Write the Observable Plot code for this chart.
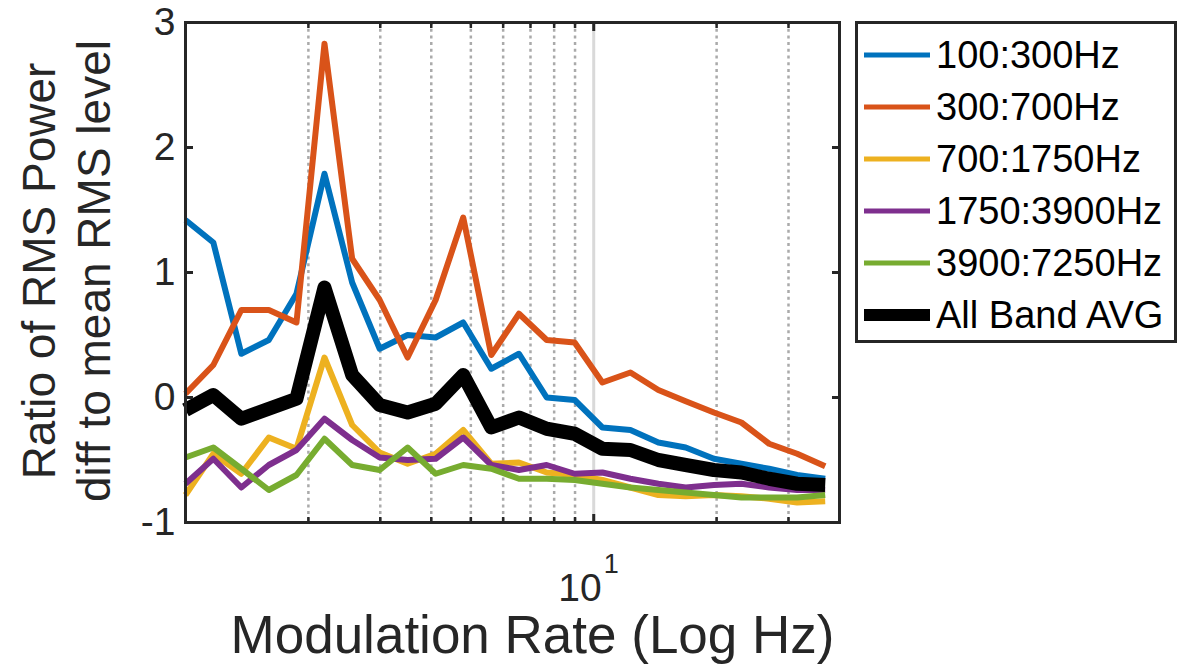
<!DOCTYPE html>
<html>
<head>
<meta charset="utf-8">
<script src="https://cdn.jsdelivr.net/npm/d3@7"></script>
<script src="https://cdn.jsdelivr.net/npm/@observablehq/plot@0.6"></script>
<style>
  html, body { margin: 0; padding: 0; background: #fff; }
  #wrap { position: relative; width: 1180px; height: 665px; font-family: "Liberation Sans", Arial, sans-serif; }
  #legend { position: absolute; left: 855px; top: 21px; width: 322px; height: 322px; border: 3px solid #262626; box-sizing: border-box; background: #fff; }
  .row { position: absolute; left: 6px; height: 40px; display: flex; align-items: center; }
  .sw { width: 66px; margin-right: 6px; }
  .lab { font-size: 38px; color: #000; white-space: nowrap; }
  #ylab { position: absolute; left: 67px; top: 271px; transform: translate(-50%, -50%) rotate(-90deg);
          font-size: 46px; line-height: 55px; color: #262626; text-align: center; white-space: pre; }
</style>
</head>
<body>
<div id="wrap"></div>
<script>
// Modulation rate (Hz), log-spaced samples
const modRate = [1.00, 1.17, 1.37, 1.60, 1.87, 2.19, 2.56, 2.99, 3.50, 4.10, 4.79, 5.61,
                 6.56, 7.67, 8.98, 10.5, 12.3, 14.4, 16.8, 19.7, 23.0, 26.9, 31.5, 36.9];

const band100_300   = [1.42, 1.24, 0.35, 0.46, 0.83, 1.79, 0.92, 0.39, 0.50, 0.48, 0.60, 0.23,
                       0.35, 0.00, -0.02, -0.24, -0.26, -0.36, -0.40, -0.49, -0.53, -0.57, -0.62, -0.65];
const band300_700   = [0.03, 0.26, 0.70, 0.70, 0.60, 2.83, 1.11, 0.78, 0.32, 0.78, 1.44, 0.34,
                       0.67, 0.46, 0.44, 0.12, 0.20, 0.06, -0.03, -0.12, -0.20, -0.37, -0.45, -0.55];
const band700_1750  = [-0.78, -0.45, -0.61, -0.32, -0.41, 0.32, -0.22, -0.44, -0.53, -0.45, -0.26, -0.53,
                       -0.52, -0.60, -0.62, -0.66, -0.72, -0.78, -0.79, -0.78, -0.79, -0.81, -0.84, -0.83];
const band1750_3900 = [-0.69, -0.49, -0.72, -0.54, -0.42, -0.17, -0.34, -0.48, -0.50, -0.49, -0.32, -0.54,
                       -0.58, -0.54, -0.61, -0.60, -0.65, -0.69, -0.72, -0.70, -0.69, -0.72, -0.74, -0.74];
const band3900_7250 = [-0.48, -0.40, -0.57, -0.74, -0.62, -0.33, -0.54, -0.58, -0.40, -0.61, -0.54, -0.57,
                       -0.65, -0.65, -0.66, -0.69, -0.72, -0.74, -0.76, -0.78, -0.80, -0.80, -0.80, -0.78];
const allBandAvg    = [-0.10, 0.02, -0.17, -0.09, -0.01, 0.88, 0.18, -0.06, -0.12, -0.05, 0.18, -0.24,
                       -0.16, -0.25, -0.29, -0.41, -0.42, -0.50, -0.54, -0.58, -0.60, -0.65, -0.69, -0.70];

const seriesNames = ["100:300Hz", "300:700Hz", "700:1750Hz", "1750:3900Hz", "3900:7250Hz", "All Band AVG"];
const seriesValues = [band100_300, band300_700, band700_1750, band1750_3900, band3900_7250, allBandAvg];
const seriesColors = ["#0072BD", "#D95319", "#EDB120", "#7E2F8E", "#77AC30", "#000000"];
const seriesWidths = [6, 6, 6, 6, 6, 14];

const minorTicks = [2, 3, 4, 5, 6, 7, 8, 9, 20, 30];
const majorTicks = [10];
const yTicks = [-1, 0, 1, 2, 3];
const xLabel = "Modulation Rate (Log Hz)";
const yLabel = "Ratio of RMS Power\ndiff to mean RMS level";

const ink = "#262626";
const font = "Liberation Sans, Arial, sans-serif";

const lineMarks = seriesNames.map((name, i) =>
  Plot.line(modRate.map((x, j) => ({x, y: seriesValues[i][j]})), {
    x: "x", y: "y", stroke: seriesColors[i], strokeWidth: seriesWidths[i],
    strokeLinejoin: "round", strokeLinecap: "butt"
  })
);

const chart = Plot.plot({
  width: 1180,
  height: 665,
  marginLeft: 185,
  marginRight: 341,
  marginTop: 22,
  marginBottom: 143,
  style: {fontFamily: font, background: "#fff", overflow: "visible"},
  x: {type: "log", domain: [1, 40]},
  y: {domain: [-1, 3]},
  marks: [
    Plot.ruleX(minorTicks, {stroke: "#aaaaaa", strokeWidth: 2.5, strokeDasharray: "3,3.7"}),
    Plot.ruleX(majorTicks, {stroke: "#d9d9d9", strokeWidth: 3}),
    ...lineMarks,
    // inward ticks on all four sides
    Plot.axisX(minorTicks, {anchor: "bottom", tickSize: 5, dy: -5, tickFormat: () => "", stroke: ink, strokeWidth: 2.5, label: null}),
    Plot.axisX(majorTicks, {anchor: "bottom", tickSize: 8, dy: -8, tickFormat: () => "", stroke: ink, strokeWidth: 3, label: null}),
    Plot.axisX(minorTicks, {anchor: "top", tickSize: 5, dy: 5, tickFormat: () => "", stroke: ink, strokeWidth: 2.5, label: null}),
    Plot.axisX(majorTicks, {anchor: "top", tickSize: 8, dy: 8, tickFormat: () => "", stroke: ink, strokeWidth: 3, label: null}),
    Plot.axisY(yTicks, {anchor: "left", tickSize: 8, dx: 8, tickPadding: 10, tickFormat: d => String(d), fontSize: 39, fill: ink, stroke: ink, strokeWidth: 3, label: null}),
    Plot.axisY(yTicks, {anchor: "right", tickSize: 8, dx: -8, tickFormat: () => "", stroke: ink, strokeWidth: 3, label: null}),
    Plot.frame({stroke: ink, strokeWidth: 3}),
    // x tick label 10^1
    Plot.text(majorTicks, {x: d => d, frameAnchor: "bottom", text: () => "10", textAnchor: "end", dx: 8, dy: 66, lineAnchor: "middle", fontSize: 39, fill: ink}),
    Plot.text(majorTicks, {x: d => d, frameAnchor: "bottom", text: () => "1", textAnchor: "start", dx: 10, dy: 42, lineAnchor: "middle", fontSize: 27, fill: ink}),
    // x axis title
    Plot.text([xLabel], {frameAnchor: "bottom", text: d => d, dx: 20, dy: 114, lineAnchor: "middle", fontSize: 53, fill: ink})
  ]
});

const wrap = document.getElementById("wrap");
wrap.appendChild(chart);

// y axis title (two lines, rotated)
const ylab = document.createElement("div");
ylab.id = "ylab";
ylab.textContent = yLabel;
wrap.appendChild(ylab);

// legend
const legend = document.createElement("div");
legend.id = "legend";
const rowCenters = [52, 104, 156, 208, 260, 312];
seriesNames.forEach((name, i) => {
  const row = document.createElement("div");
  row.className = "row";
  row.style.top = (rowCenters[i] - 21 - 20) + "px";
  const sw = document.createElementNS("http://www.w3.org/2000/svg", "svg");
  sw.setAttribute("class", "sw");
  sw.setAttribute("width", 66);
  sw.setAttribute("height", 20);
  const ln = document.createElementNS("http://www.w3.org/2000/svg", "line");
  ln.setAttribute("x1", 0); ln.setAttribute("x2", 66);
  ln.setAttribute("y1", 10); ln.setAttribute("y2", 10);
  ln.setAttribute("stroke", seriesColors[i]);
  ln.setAttribute("stroke-width", i === 5 ? 12 : 5);
  sw.appendChild(ln);
  const lab = document.createElement("span");
  lab.className = "lab";
  lab.textContent = name;
  row.appendChild(sw);
  row.appendChild(lab);
  legend.appendChild(row);
});
wrap.appendChild(legend);
</script>
</body>
</html>
